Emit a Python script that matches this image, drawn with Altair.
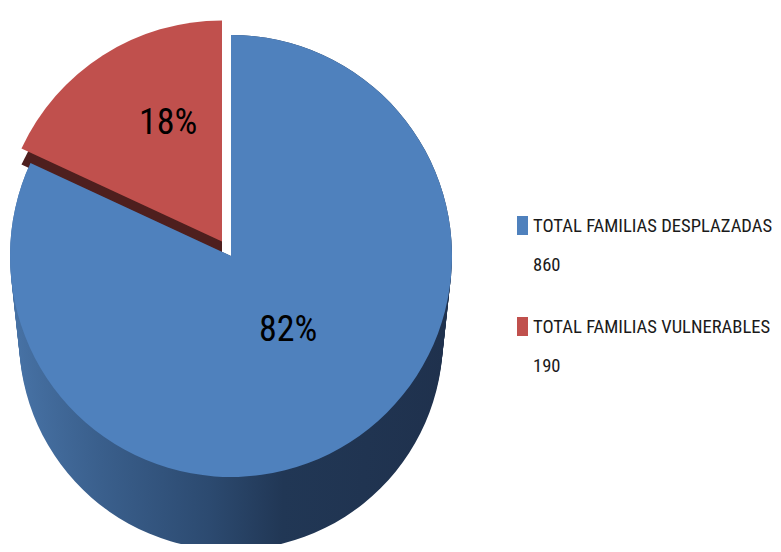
import altair as alt
import pandas as pd

# ---- data ----
categories = ["TOTAL FAMILIAS DESPLAZADAS", "TOTAL FAMILIAS VULNERABLES"]
values = [860, 190]
top_colors = ["#4f81bd", "#c0504d"]

df = pd.DataFrame({
    "category": categories,
    "value": values,
    "order": [0, 1],
    "row": [0, 1],
})

OFF = 8  # page margin
def px(v):
    return v - OFF

FONT = "Liberation Sans Narrow, Roboto Condensed, DejaVu Sans Condensed, Liberation Sans, sans-serif"

base = (
    alt.Chart(df)
    .transform_joinaggregate(total="sum(value)")
    .transform_window(cum="sum(value)", sort=[alt.SortField("order")])
    .transform_calculate(
        t0="(datum.cum - datum.value) / datum.total * 2 * PI",
        t1="datum.cum / datum.total * 2 * PI",
        tm="(datum.cum - datum.value / 2) / datum.total * 2 * PI",
        pct="format(datum.value / datum.total, '.0%')",
        vtxt="'' + datum.value",
    )
)

blue = base.transform_filter(alt.datum.order == 0)
red = base.transform_filter(alt.datum.order == 1)

theta = alt.Theta("t0:Q", scale=None)
theta2 = alt.Theta2("t1:Q")

# pie geometry (style)
BCX, BCY, R = 231, 256, 221
RCX, RCY = 222.0, 241.5
DEPTH, R_BOTTOM = 82, 212

side_grad = alt.Gradient(
    gradient="linear",
    stops=[
        alt.GradientStop(color="#4772a5", offset=0.0),
        alt.GradientStop(color="#3a5f8c", offset=0.2),
        alt.GradientStop(color="#2c4a70", offset=0.45),
        alt.GradientStop(color="#213755", offset=0.62),
        alt.GradientStop(color="#1f314d", offset=1.0),
    ],
    x1=0, x2=1, y1=0, y2=0,
)

layers = []
N = 20
for i in range(N, -1, -1):
    k = i / N
    layers.append(
        blue.mark_arc(fill=side_grad, radius=R - k * (R - R_BOTTOM), strokeWidth=0).encode(
            x=alt.value(px(BCX)),
            y=alt.value(px(BCY) + k * DEPTH),
            theta=theta,
            theta2=theta2,
        )
    )

# side of the exploded red slice
layers.append(
    red.mark_arc(fill="#4e1f1e", radius=R, strokeWidth=0).encode(
        x=alt.value(px(RCX)),
        y=alt.value(px(RCY) + 16),
        theta=theta,
        theta2=theta2,
    )
)
# top faces
layers.append(
    blue.mark_arc(fill=top_colors[0], radius=R, strokeWidth=0).encode(
        x=alt.value(px(BCX)), y=alt.value(px(BCY)), theta=theta, theta2=theta2
    )
)
layers.append(
    red.mark_arc(fill=top_colors[1], radius=R, strokeWidth=0).encode(
        x=alt.value(px(RCX)), y=alt.value(px(RCY)), theta=theta, theta2=theta2
    )
)

# percentage labels
layers.append(
    blue.mark_text(font=FONT, fontSize=36, color="#000000", align="center", baseline="middle",
                   radius=95, dx=6, dy=-6).encode(
        x=alt.value(px(BCX)), y=alt.value(px(BCY)),
        theta=alt.Theta("tm:Q", scale=None), text="pct:N"
    )
)
layers.append(
    red.mark_text(font=FONT, fontSize=36, color="#000000", align="center", baseline="middle",
                  radius=128, dx=15, dy=-11).encode(
        x=alt.value(px(RCX)), y=alt.value(px(RCY)),
        theta=alt.Theta("tm:Q", scale=None), text="pct:N"
    )
)

# legend (built from the same arrays)
ly = alt.Y("row:Q", scale=alt.Scale(domain=[0, 1], range=[px(225.5), px(326.5)]), axis=None)
layers.append(
    base.mark_rect(width=11, height=19).encode(
        x=alt.value(px(522.5)), y=ly,
        color=alt.Color("category:N", scale=alt.Scale(domain=categories, range=top_colors), legend=None),
    )
)
layers.append(
    base.mark_text(font=FONT, fontSize=18.6, color="#1a1a1a", align="left", baseline="middle").encode(
        x=alt.value(px(533)), y=ly, text="category:N"
    )
)
layers.append(
    base.mark_text(font=FONT, fontSize=18.6, color="#1a1a1a", align="left", baseline="middle", dy=39.5).encode(
        x=alt.value(px(533)), y=ly, text="vtxt:N"
    )
)

chart = (
    alt.layer(*layers)
    .properties(width=765, height=536, padding=0, autosize=alt.AutoSizeParams(type="none"),
                background="#ffffff")
    .configure_view(stroke=None)
)

chart.save("out.html", embed_options={"renderer": "svg", "actions": False})
